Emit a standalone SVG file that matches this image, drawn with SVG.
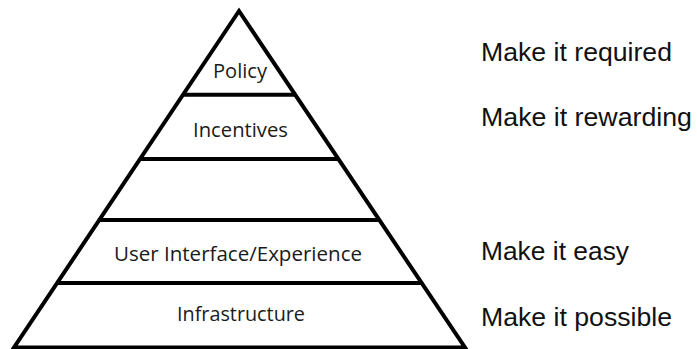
<svg xmlns="http://www.w3.org/2000/svg" width="697" height="349" viewBox="0 0 697 349">
<style>
.edge{fill:none;stroke:#000;stroke-width:4;stroke-linejoin:miter}
.sep{stroke:#000;stroke-width:4}
.lbl{font-family:"Open Sans","DejaVu Sans",sans-serif;font-size:20px;fill:#1a1a1a;text-anchor:middle}
.side{font-family:"Liberation Sans",Arial,sans-serif;font-size:26px;fill:#111}
</style>
<rect width="697" height="349" fill="#fff"/>
<g id="pyramid">
<polygon class="edge" points="239,11 14,347.5 465,347.5"/>
</g>
<g id="connectors">
<line class="sep" x1="182.5" y1="94.7" x2="295.5" y2="94.7"/>
<line class="sep" x1="139.7" y1="159" x2="338.3" y2="159"/>
<line class="sep" x1="99" y1="220" x2="379" y2="220"/>
<line class="sep" x1="57" y1="283" x2="421" y2="283"/>
</g>
<g id="layer-policy"><text class="lbl" x="240" y="78" textLength="54" lengthAdjust="spacingAndGlyphs">Policy</text></g>
<g id="layer-incentives"><text class="lbl" x="240.5" y="136.5" textLength="95" lengthAdjust="spacingAndGlyphs">Incentives</text></g>
<g id="layer-empty"></g>
<g id="layer-ui"><text class="lbl" x="238" y="261" textLength="248" lengthAdjust="spacingAndGlyphs">User Interface/Experience</text></g>
<g id="layer-infrastructure"><text class="lbl" x="241" y="321" textLength="128" lengthAdjust="spacingAndGlyphs">Infrastructure</text></g>
<g id="label-required"><text class="side" x="481" y="61" textLength="191" lengthAdjust="spacingAndGlyphs">Make it required</text></g>
<g id="label-rewarding"><text class="side" x="481" y="126" textLength="211" lengthAdjust="spacingAndGlyphs">Make it rewarding</text></g>
<g id="label-easy"><text class="side" x="481" y="260" textLength="148" lengthAdjust="spacingAndGlyphs">Make it easy</text></g>
<g id="label-possible"><text class="side" x="481" y="326" textLength="191" lengthAdjust="spacingAndGlyphs">Make it possible</text></g>
</svg>
